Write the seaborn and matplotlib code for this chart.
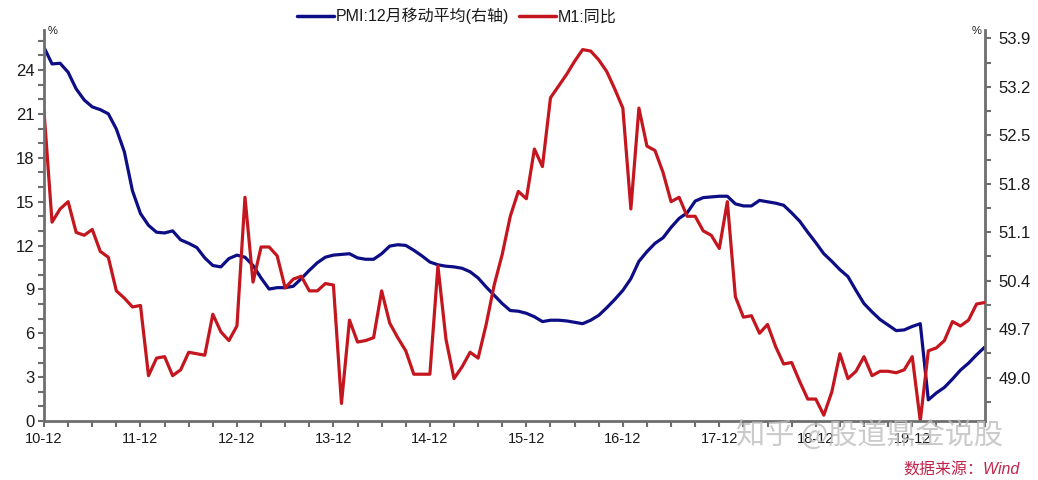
import numpy as np
import pandas as pd
import matplotlib
matplotlib.use("Agg")
import matplotlib.pyplot as plt
import seaborn as sns
from matplotlib.ticker import MultipleLocator, FixedLocator
from matplotlib.lines import Line2D

# ---------------- data (monthly, 2010-12 .. 2020-09) ----------------
year_ticks = ["10-12", "11-12", "12-12", "13-12", "14-12", "15-12",
              "16-12", "17-12", "18-12", "19-12"]

m1_yoy = [21.2, 13.6, 14.5, 15.0, 12.9, 12.7, 13.1, 11.6, 11.2, 8.9, 8.4, 7.8, 7.9,
          3.1, 4.3, 4.4, 3.1, 3.5, 4.7, 4.6, 4.5, 7.3, 6.1, 5.5, 6.5,
          15.3, 9.5, 11.9, 11.9, 11.3, 9.1, 9.7, 9.9, 8.9, 8.9, 9.4, 9.3,
          1.2, 6.9, 5.4, 5.5, 5.7, 8.9, 6.7, 5.7, 4.8, 3.2, 3.2, 3.2,
          10.6, 5.6, 2.9, 3.7, 4.7, 4.3, 6.6, 9.3, 11.4, 14.0, 15.7, 15.2,
          18.6, 17.4, 22.1, 22.9, 23.7, 24.6, 25.4, 25.3, 24.7, 23.9, 22.7, 21.4,
          14.5, 21.4, 18.8, 18.5, 17.0, 15.0, 15.3, 14.0, 14.0, 13.0, 12.7, 11.8,
          15.0, 8.5, 7.1, 7.2, 6.0, 6.6, 5.1, 3.9, 4.0, 2.7, 1.5, 1.5,
          0.4, 2.0, 4.6, 2.9, 3.4, 4.4, 3.1, 3.4, 3.4, 3.3, 3.5, 4.4,
          0.0, 4.8, 5.0, 5.5, 6.8, 6.5, 6.9, 8.0, 8.1]

pmi_ma12 = [53.77, 53.53, 53.54, 53.41, 53.17, 53.01, 52.91, 52.87, 52.81, 52.59, 52.26, 51.70, 51.37,
            51.20, 51.10, 51.09, 51.12, 50.99, 50.94, 50.88, 50.73, 50.62, 50.60, 50.72, 50.77,
            50.74, 50.62, 50.44, 50.28, 50.30, 50.30, 50.32, 50.43, 50.55, 50.66, 50.74, 50.77,
            50.78, 50.79, 50.73, 50.71, 50.71, 50.79, 50.90, 50.92, 50.91, 50.84, 50.76, 50.67,
            50.63, 50.61, 50.60, 50.58, 50.53, 50.44, 50.31, 50.19, 50.07, 49.97, 49.96, 49.93,
            49.88, 49.81, 49.83, 49.83, 49.82, 49.80, 49.78, 49.83, 49.90, 50.01, 50.13, 50.26,
            50.43, 50.68, 50.82, 50.94, 51.02, 51.17, 51.30, 51.38, 51.55, 51.60, 51.61, 51.62,
            51.62, 51.51, 51.48, 51.48, 51.56, 51.54, 51.52, 51.49, 51.38, 51.26, 51.10, 50.95,
            50.79, 50.68, 50.56, 50.46, 50.26, 50.07, 49.95, 49.84, 49.76, 49.68, 49.69, 49.74,
            49.78, 48.68, 48.78, 48.86, 48.98, 49.11, 49.21, 49.33, 49.44]

left_ticks = [0, 3, 6, 9, 12, 15, 18, 21, 24]
right_ticks = [49.0, 49.7, 50.4, 51.1, 51.8, 52.5, 53.2, 53.9]

label_pmi = "PMI:12月移动平均(右轴)"
label_m1 = "M1:同比"

# ---------------- style ----------------
sns.set_theme(style="white")
plt.rcParams["font.family"] = ["Liberation Sans", "Noto Sans CJK SC", "DejaVu Sans"]
plt.rcParams["axes.unicode_minus"] = False

BLUE = "#0D0D85"
RED = "#C4161E"
GREY = "#6E6E6E"

df = pd.DataFrame({"month": np.arange(len(m1_yoy)), "m1": m1_yoy, "pmi": pmi_ma12})

fig = plt.figure(figsize=(10.38, 4.8), dpi=100)
ax = fig.add_axes([44 / 1038, 59 / 480, 941 / 1038, 391 / 480])
ax2 = ax.twinx()

sns.lineplot(data=df, x="month", y="pmi", ax=ax2, color=BLUE, linewidth=2.3)
sns.lineplot(data=df, x="month", y="m1", ax=ax, color=RED, linewidth=2.3)

ax.set_zorder(ax2.get_zorder() + 1)
ax.patch.set_visible(False)

ax.set_xlim(0, len(m1_yoy) - 1 + 0.05)
ax.set_ylim(0, 26.74)
ax2.set_ylim(48.375, 54.02)

ax.set_xlabel("")
ax.set_ylabel("")
ax2.set_ylabel("")

# x ticks
ax.xaxis.set_major_locator(FixedLocator(np.arange(0, 12 * len(year_ticks), 12)))
ax.set_xticklabels(year_ticks)
ax.xaxis.set_minor_locator(MultipleLocator(3))

# y ticks
ax.set_yticks(left_ticks)
ax.yaxis.set_minor_locator(MultipleLocator(1))
ax2.set_yticks(right_ticks)
ax2.set_yticklabels([f"{v:.1f}" for v in right_ticks])
ax2.yaxis.set_minor_locator(MultipleLocator(0.35))

for a in (ax, ax2):
    for s in a.spines.values():
        s.set_visible(False)
    a.tick_params(which="both", color=GREY, width=1.5, length=4, labelcolor="#1A1A1A")

ax.spines["left"].set_visible(True)
ax.spines["bottom"].set_visible(True)
ax2.spines["right"].set_visible(True)
for s in (ax.spines["left"], ax.spines["bottom"], ax2.spines["right"]):
    s.set_color(GREY)
    s.set_linewidth(2)

ax.tick_params(axis="x", which="both", bottom=True, direction="out", labelsize=10.5, pad=4)
ax.tick_params(axis="y", which="both", left=True, direction="out", labelsize=12, pad=3)
ax2.tick_params(axis="y", which="both", right=True, direction="out", labelsize=12, pad=6)
ax2.tick_params(axis="x", which="both", bottom=False, labelbottom=False)

# unit labels
ax.text(0.004, 0.997, "%", transform=ax.transAxes, fontsize=8, ha="left", va="center",
        color="#1A1A1A")
ax2.text(0.996, 0.997, "%", transform=ax2.transAxes, fontsize=8, ha="right", va="center",
         color="#1A1A1A")

# legend
handles = [Line2D([0], [0], color=BLUE, lw=2.5), Line2D([0], [0], color=RED, lw=2.5)]
fig.legend(handles, [label_pmi, label_m1], loc="center", bbox_to_anchor=(457 / 1038, 1 - 16 / 480),
           ncol=2, frameon=False, fontsize=11.5, handlelength=2.3, handletextpad=0.15,
           columnspacing=0.6, labelcolor="#1A1A1A")

# watermark and source
fig.text(869 / 1038, 1 - 436 / 480, "知乎 @股道鼎金说股", fontsize=21, color="#BEBEBE",
         alpha=0.8, ha="center", va="center",
         family=["Noto Sans CJK SC", "DejaVu Sans"])
fig.text(1020 / 1038, 1 - 470 / 480, "数据来源：Wind", fontsize=11.5, color="#C0254A",
         style="italic", ha="right", va="center",
         family=["Liberation Sans", "Noto Sans CJK SC", "DejaVu Sans"])

fig.savefig("out.png", dpi=100)
